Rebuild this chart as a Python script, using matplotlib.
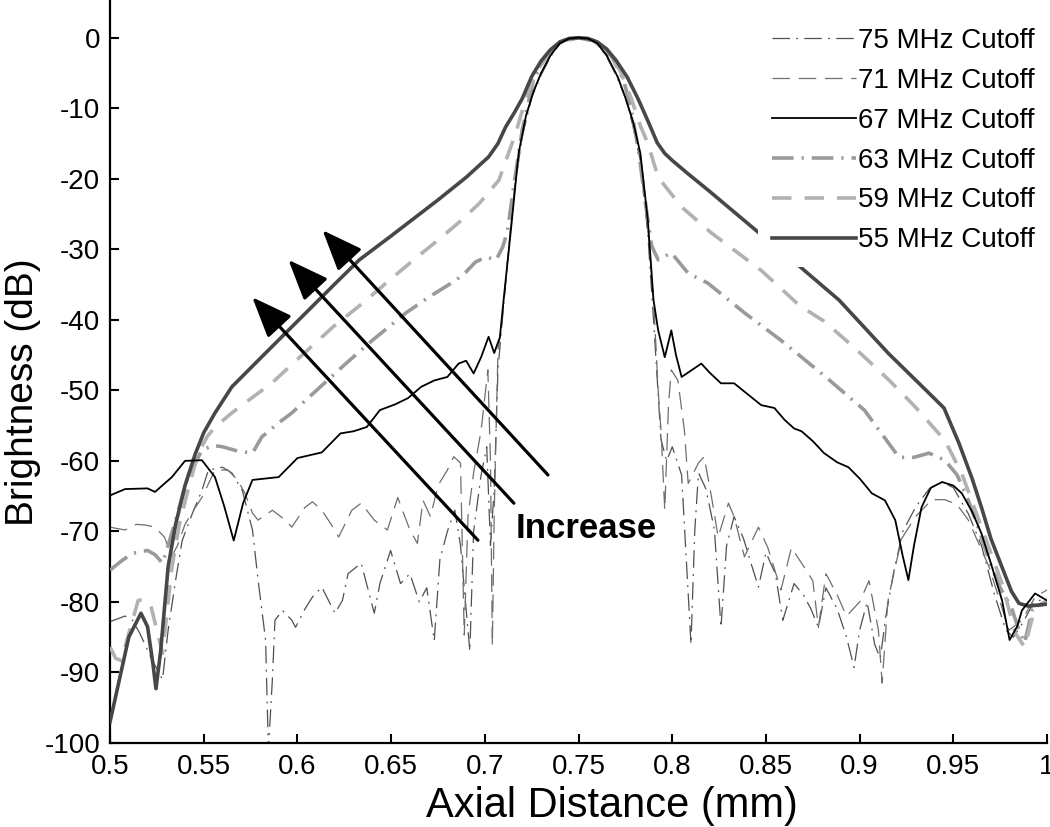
import numpy as np
import matplotlib

matplotlib.use("Agg")
import matplotlib.pyplot as plt

plt.rcParams["font.family"] = ["Liberation Sans", "DejaVu Sans"]
plt.rcParams["axes.unicode_minus"] = False

# --- data (axial distance mm, brightness dB) ---
x55 = [0.500, 0.505, 0.510, 0.5165, 0.520, 0.523, 0.5245, 0.527, 0.531, 0.535, 0.540, 0.5455,
       0.550, 0.556, 0.565, 0.580, 0.600, 0.620, 0.633, 0.650, 0.675, 0.690, 0.702, 0.707,
       0.711, 0.716, 0.720, 0.725, 0.730, 0.735, 0.740, 0.745, 0.750, 0.755, 0.760, 0.765,
       0.770, 0.776, 0.782, 0.787, 0.792, 0.796, 0.800, 0.808, 0.820, 0.837, 0.850, 0.867,
       0.889, 0.9155, 0.937, 0.945, 0.953, 0.960, 0.965, 0.970, 0.976, 0.981, 0.985, 0.990, 1.000]
y55 = [-97, -91, -85, -81.6, -83.5, -89, -92.3, -87, -75, -69, -63.5, -59,
       -56, -53.2, -49.5, -45.5, -40.2, -34.9, -31.5, -28.1, -23.0, -19.8, -16.9, -15.0,
       -12.7, -10.5, -8.6, -5.5, -3.3, -1.7, -0.6, -0.1, 0, -0.1, -0.6, -1.6,
       -3.2, -5.6, -8.8, -11.8, -14.9, -16.4, -17.4, -19.2, -21.8, -25.6, -28.5, -32.2,
       -37.2, -44.8, -50.4, -52.5, -57.5, -62.5, -66.6, -71, -75.1, -78.5, -80.2, -80.6, -80.3]

x59 = [0.500, 0.503, 0.506, 0.510, 0.515, 0.519, 0.522, 0.525, 0.528, 0.531, 0.533, 0.537,
       0.5415, 0.547, 0.552, 0.556, 0.565, 0.575, 0.5866, 0.600, 0.619, 0.635, 0.649, 0.662,
       0.675, 0.687, 0.697, 0.7075, 0.7165, 0.722, 0.728, 0.735, 0.742, 0.750, 0.758, 0.765,
       0.772, 0.778, 0.783, 0.787, 0.7925, 0.805, 0.821, 0.8475, 0.868, 0.881, 0.897, 0.9155,
       0.9295, 0.9455, 0.9545, 0.965, 0.976, 0.983, 0.988, 0.9936, 1.000]
y59 = [-86.4, -88.0, -88.3, -84.5, -79.8, -79.6, -80.8, -84, -87.3, -80, -75.1, -69,
       -64.2, -58.9, -56.5, -55.2, -53.2, -51.2, -48.9, -45.6, -41.0, -37.6, -34.4, -31.5,
       -28.7, -26, -23.5, -20.2, -13.5, -8.5, -4.6, -2.0, -0.4, 0, -0.4, -2.0,
       -4.6, -8.5, -12.5, -15.0, -19.8, -24.0, -27.7, -33.0, -38.0, -40.2, -43.9, -48.5,
       -52.3, -57.1, -61.8, -69.4, -77.4, -84.4, -86.4, -80.8, -79.8]

x63 = [0.500, 0.506, 0.512, 0.520, 0.524, 0.528, 0.531, 0.535, 0.5415, 0.549, 0.555, 0.560,
       0.568, 0.576, 0.581, 0.590, 0.597, 0.611, 0.625, 0.640, 0.658, 0.670, 0.6845, 0.690,
       0.695, 0.7005, 0.706, 0.7095, 0.712, 0.716, 0.720, 0.726, 0.732, 0.740, 0.750, 0.760,
       0.768, 0.774, 0.778, 0.782, 0.786, 0.789, 0.7925, 0.7995, 0.8085, 0.819, 0.8385, 0.858,
       0.881, 0.9025, 0.921, 0.929, 0.937, 0.9455, 0.952, 0.958, 0.964, 0.969, 0.975, 0.981,
       0.985, 0.988, 0.992, 0.996, 1.000]
y63 = [-75.5, -74.2, -73.1, -72.7, -73.3, -74.5, -72, -68.4, -62.3, -58.5, -57.8, -58.0,
       -58.6, -58.9, -56.6, -54.6, -53.2, -49.8, -46.4, -42.9, -39.0, -36.8, -34.4, -33.2,
       -31.8, -31.1, -31.5, -29.7, -27.5, -20, -13, -6.0, -2.8, -0.6, 0, -0.6,
       -2.8, -6.0, -10, -16, -24, -29.5, -31.5, -30.5, -33.4, -34.8, -39.0, -42.9,
       -47.9, -52.8, -59.5, -59.5, -58.9, -59.9, -62, -65.6, -70, -74.1, -78, -80.8,
       -84, -85.8, -81.2, -80.5, -80.2]

x67 = [0.500, 0.508, 0.520, 0.524, 0.533, 0.540, 0.549, 0.556, 0.561, 0.566, 0.571, 0.576,
       0.583, 0.590, 0.600, 0.613, 0.623, 0.630, 0.637, 0.644, 0.652, 0.659, 0.666, 0.673,
       0.680, 0.686, 0.690, 0.694, 0.698, 0.702, 0.705, 0.708, 0.710, 0.714, 0.718, 0.722,
       0.726, 0.730, 0.735, 0.740, 0.745, 0.750, 0.755, 0.760, 0.765, 0.771, 0.775, 0.779,
       0.783, 0.787, 0.790, 0.7925, 0.796, 0.7995, 0.802, 0.805, 0.810, 0.8155, 0.820, 0.826,
       0.833, 0.840, 0.8475, 0.8545, 0.860, 0.865, 0.869, 0.875, 0.881, 0.888, 0.894, 0.900,
       0.9065, 0.9135, 0.919, 0.923, 0.926, 0.929, 0.933, 0.938, 0.944, 0.950, 0.9545, 0.960,
       0.965, 0.970, 0.976, 0.980, 0.984, 0.9866, 0.9936, 1.000]
y67 = [-64.9, -64.0, -63.9, -64.4, -62.3, -60.0, -59.9, -62.3, -66.5, -71.3, -66, -62.7,
       -62.5, -62.3, -59.6, -58.8, -56.1, -55.8, -55.2, -52.8, -52.0, -51.1, -49.5, -48.6,
       -48.1, -46.2, -45.8, -47.6, -45.3, -42.4, -44.7, -42.5, -37.2, -27, -16.4, -11,
       -7.6, -5.0, -2.5, -0.8, -0.1, 0, -0.1, -0.8, -2.5, -5.6, -8.5, -11.8,
       -16.4, -26, -37.2, -41.5, -45.3, -41.5, -45, -48.1, -47.2, -46.2, -47.5, -49.0,
       -49.0, -50.5, -52.1, -52.5, -54.2, -55.4, -55.8, -57.2, -58.9, -60.2, -60.9, -62.5,
       -64.6, -65.6, -68.4, -73.5, -76.9, -72, -66.6, -63.8, -63.0, -63.5, -64.6, -67.2,
       -70.3, -74.5, -79.8, -85.4, -83.5, -81.2, -78.8, -79.8]

x71 = [0.500, 0.508, 0.514, 0.519, 0.524, 0.529, 0.533, 0.536, 0.540, 0.545, 0.549, 0.556,
       0.563, 0.568, 0.572, 0.576, 0.579, 0.5866, 0.5936, 0.597, 0.604, 0.608, 0.613, 0.618,
       0.622, 0.629, 0.634, 0.641, 0.648, 0.6535, 0.660, 0.664, 0.667, 0.671, 0.675, 0.680,
       0.6834, 0.687, 0.689, 0.691, 0.694, 0.698, 0.7016, 0.703, 0.704, 0.705, 0.707, 0.7086,
       0.711, 0.714, 0.718, 0.722, 0.726, 0.730, 0.735, 0.740, 0.745, 0.750, 0.755, 0.760,
       0.765, 0.771, 0.775, 0.779, 0.783, 0.787, 0.790, 0.7925, 0.794, 0.796, 0.798, 0.7995,
       0.803, 0.8065, 0.8085, 0.814, 0.817, 0.821, 0.8245, 0.830, 0.833, 0.8385, 0.846, 0.851,
       0.858, 0.8636, 0.869, 0.875, 0.878, 0.882, 0.888, 0.893, 0.900, 0.905, 0.910, 0.912,
       0.915, 0.919, 0.9225, 0.9295, 0.9385, 0.9455, 0.952, 0.958, 0.969, 0.9797, 0.9866,
       0.9936, 1.000]
y71 = [-69.4, -69.8, -69.0, -69.1, -69.4, -70.8, -73.5, -72, -69, -66.8, -65.2, -61.3,
       -61.3, -62.7, -64.6, -67.4, -68.4, -67.0, -68.4, -69.4, -66.6, -65.8, -67.0, -69.0,
       -70.8, -67.0, -66.0, -68.4, -69.8, -65.2, -69.8, -71.7, -65.6, -67.9, -63.5, -61.3,
       -59.4, -60.3, -84.7, -67.9, -61.7, -55.7, -47.1, -60, -86.2, -67.4, -44.3, -41.5,
       -35, -26, -16.8, -11.2, -7.7, -5.1, -2.6, -0.8, -0.1, 0, -0.1, -0.8,
       -2.6, -5.7, -8.6, -12, -16.8, -27, -37, -50, -55.7, -67.0, -52, -47.1,
       -48.6, -55.7, -63.2, -60.3, -59.4, -65.2, -70.8, -66.0, -67.9, -73.6, -69.4, -72.3,
       -78.3, -72.3, -74.5, -77, -83.6, -76, -79, -82, -80, -77, -84, -91.5,
       -80, -75, -71, -68, -65.5, -65.5, -66.2, -68.4, -75, -84, -82.6,
       -79.3, -78.3]

x75 = [0.500, 0.508, 0.512, 0.516, 0.522, 0.528, 0.531, 0.535, 0.5385, 0.544, 0.549, 0.5525,
       0.560, 0.565, 0.5706, 0.576, 0.579, 0.583, 0.5845, 0.5866, 0.588, 0.592, 0.597, 0.599,
       0.604, 0.608, 0.613, 0.620, 0.624, 0.627, 0.634, 0.641, 0.644, 0.6497, 0.655, 0.660,
       0.665, 0.669, 0.673, 0.676, 0.680, 0.684, 0.687, 0.692, 0.694, 0.698, 0.701, 0.703,
       0.705, 0.707, 0.709, 0.712, 0.716, 0.720, 0.725, 0.730, 0.735, 0.740, 0.745, 0.750,
       0.755, 0.760, 0.765, 0.770, 0.775, 0.779, 0.783, 0.787, 0.790, 0.794, 0.797, 0.800,
       0.805, 0.810, 0.812, 0.814, 0.818, 0.8225, 0.826, 0.829, 0.833, 0.838, 0.842, 0.846,
       0.850, 0.855, 0.859, 0.865, 0.870, 0.874, 0.878, 0.882, 0.888, 0.893, 0.897, 0.900,
       0.904, 0.908, 0.911, 0.914, 0.918, 0.923, 0.930, 0.937, 0.944, 0.950, 0.958, 0.965,
       0.972, 0.978, 0.982, 0.987, 0.993, 1.000]
y75 = [-82.8, -82.0, -82.6, -84.5, -88.0, -91.0, -84, -76.9, -71.3, -67.4, -64.2, -61.3,
       -60.9, -61.7, -64.2, -69.8, -76.9, -85.4, -101, -91.1, -82.6, -81.2, -82.6, -83.6,
       -81, -79.3, -77.9, -81.6, -79.8, -76.0, -74.5, -81.6, -77.4, -72.7, -77.4, -76.0,
       -80, -78, -85.5, -74, -70, -67, -72, -87, -70, -62, -58, -72,
       -64, -47, -41, -32, -21, -14, -8.5, -5.3, -2.7, -0.9, -0.1, 0,
       -0.1, -0.9, -2.7, -5.3, -8.5, -12.5, -17.5, -28, -40, -57, -60, -58,
       -62, -86, -70, -61.7, -64, -69.8, -83.6, -72, -67.9, -71, -74.5, -77.9,
       -73, -76, -82.6, -77.4, -79, -81, -83.6, -78, -81, -85, -89.3, -84,
       -80, -86, -88, -82, -76, -70, -66.5, -64, -63, -63.8, -67.5, -72,
       -79, -84, -85, -83, -80, -79.5]

labels = ["75 MHz Cutoff", "71 MHz Cutoff", "67 MHz Cutoff",
          "63 MHz Cutoff", "59 MHz Cutoff", "55 MHz Cutoff"]

# arrows (tail -> head) and annotation
arrow_tails = [(0.6963, -71.25), (0.7155, -66.0), (0.7337, -62.0)]
arrow_heads = [(0.5759, -36.8), (0.5952, -31.5), (0.6134, -27.3)]

fig = plt.figure(figsize=(10.5, 8.27), dpi=100)
ax = fig.add_axes([0.1048, 0.1016, 0.8924, 0.8984])

ax.plot(x75, y75, color="#505050", lw=0.9, dashes=(14, 5, 1.5, 5), label=labels[0], zorder=2)
ax.plot(x71, y71, color="#6e6e6e", lw=0.9, dashes=(14, 7), label=labels[1], zorder=2)
ax.plot(x67, y67, color="black", lw=1.3, label=labels[2], zorder=5)
ax.plot(x63, y63, color="#9a9a9a", lw=2.6, dashes=(6.0, 2.2, 0.6, 2.2), label=labels[3], zorder=3)
ax.plot(x59, y59, color="#b2b2b2", lw=2.6, dashes=(5.4, 3.6), label=labels[4], zorder=3)
ax.plot(x55, y55, color="#474747", lw=2.6, label=labels[5], zorder=4)

for tail, head in zip(arrow_tails, arrow_heads):
    ax.annotate("", xy=head, xytext=tail,
                arrowprops=dict(arrowstyle="-|>,head_length=1.25,head_width=0.5",
                                mutation_scale=20, lw=2.3, color="black",
                                shrinkA=0, shrinkB=0), zorder=6)
ax.text(0.754, -69.6, "Increase", fontsize=25, fontweight="bold",
        ha="center", va="center", zorder=6)

ax.set_xlim(0.5, 1.0)
ax.set_ylim(-100, 5.35)
ax.set_xticks(np.arange(0.5, 1.0001, 0.05))
ax.set_xticklabels(["0.5", "0.55", "0.6", "0.65", "0.7", "0.75", "0.8", "0.85", "0.9", "0.95", "1"])
ax.set_yticks(np.arange(-100, 1, 10))
ax.set_yticklabels([str(v) for v in range(-100, 1, 10)])
ax.tick_params(direction="in", length=6.5, width=1.5, labelsize=20)
ax.tick_params(axis="x", pad=8)
ax.tick_params(axis="y", pad=7)
for side in ("top", "right"):
    ax.spines[side].set_visible(False)
for side in ("left", "bottom"):
    ax.spines[side].set_linewidth(1.6)

ax.set_xlabel("Axial Distance (mm)", fontsize=30)
ax.set_ylabel("Brightness (dB)", fontsize=28)
ax.xaxis.set_label_coords(0.536, -0.058)
ax.yaxis.set_label_coords(-0.074, 0.472)

leg = ax.legend(loc="upper right", bbox_to_anchor=(1.0 + 2 / 937, 1.0 - 14 / 743), fontsize=20,
                handlelength=3.0, handletextpad=0.1, labelspacing=0.5,
                borderpad=0.5, borderaxespad=0.0, frameon=True, fancybox=False)
leg.get_frame().set_edgecolor("none")
leg.get_frame().set_facecolor("white")
leg.get_frame().set_alpha(1)
leg.set_zorder(7)

fig.savefig("out.png", dpi=100)
